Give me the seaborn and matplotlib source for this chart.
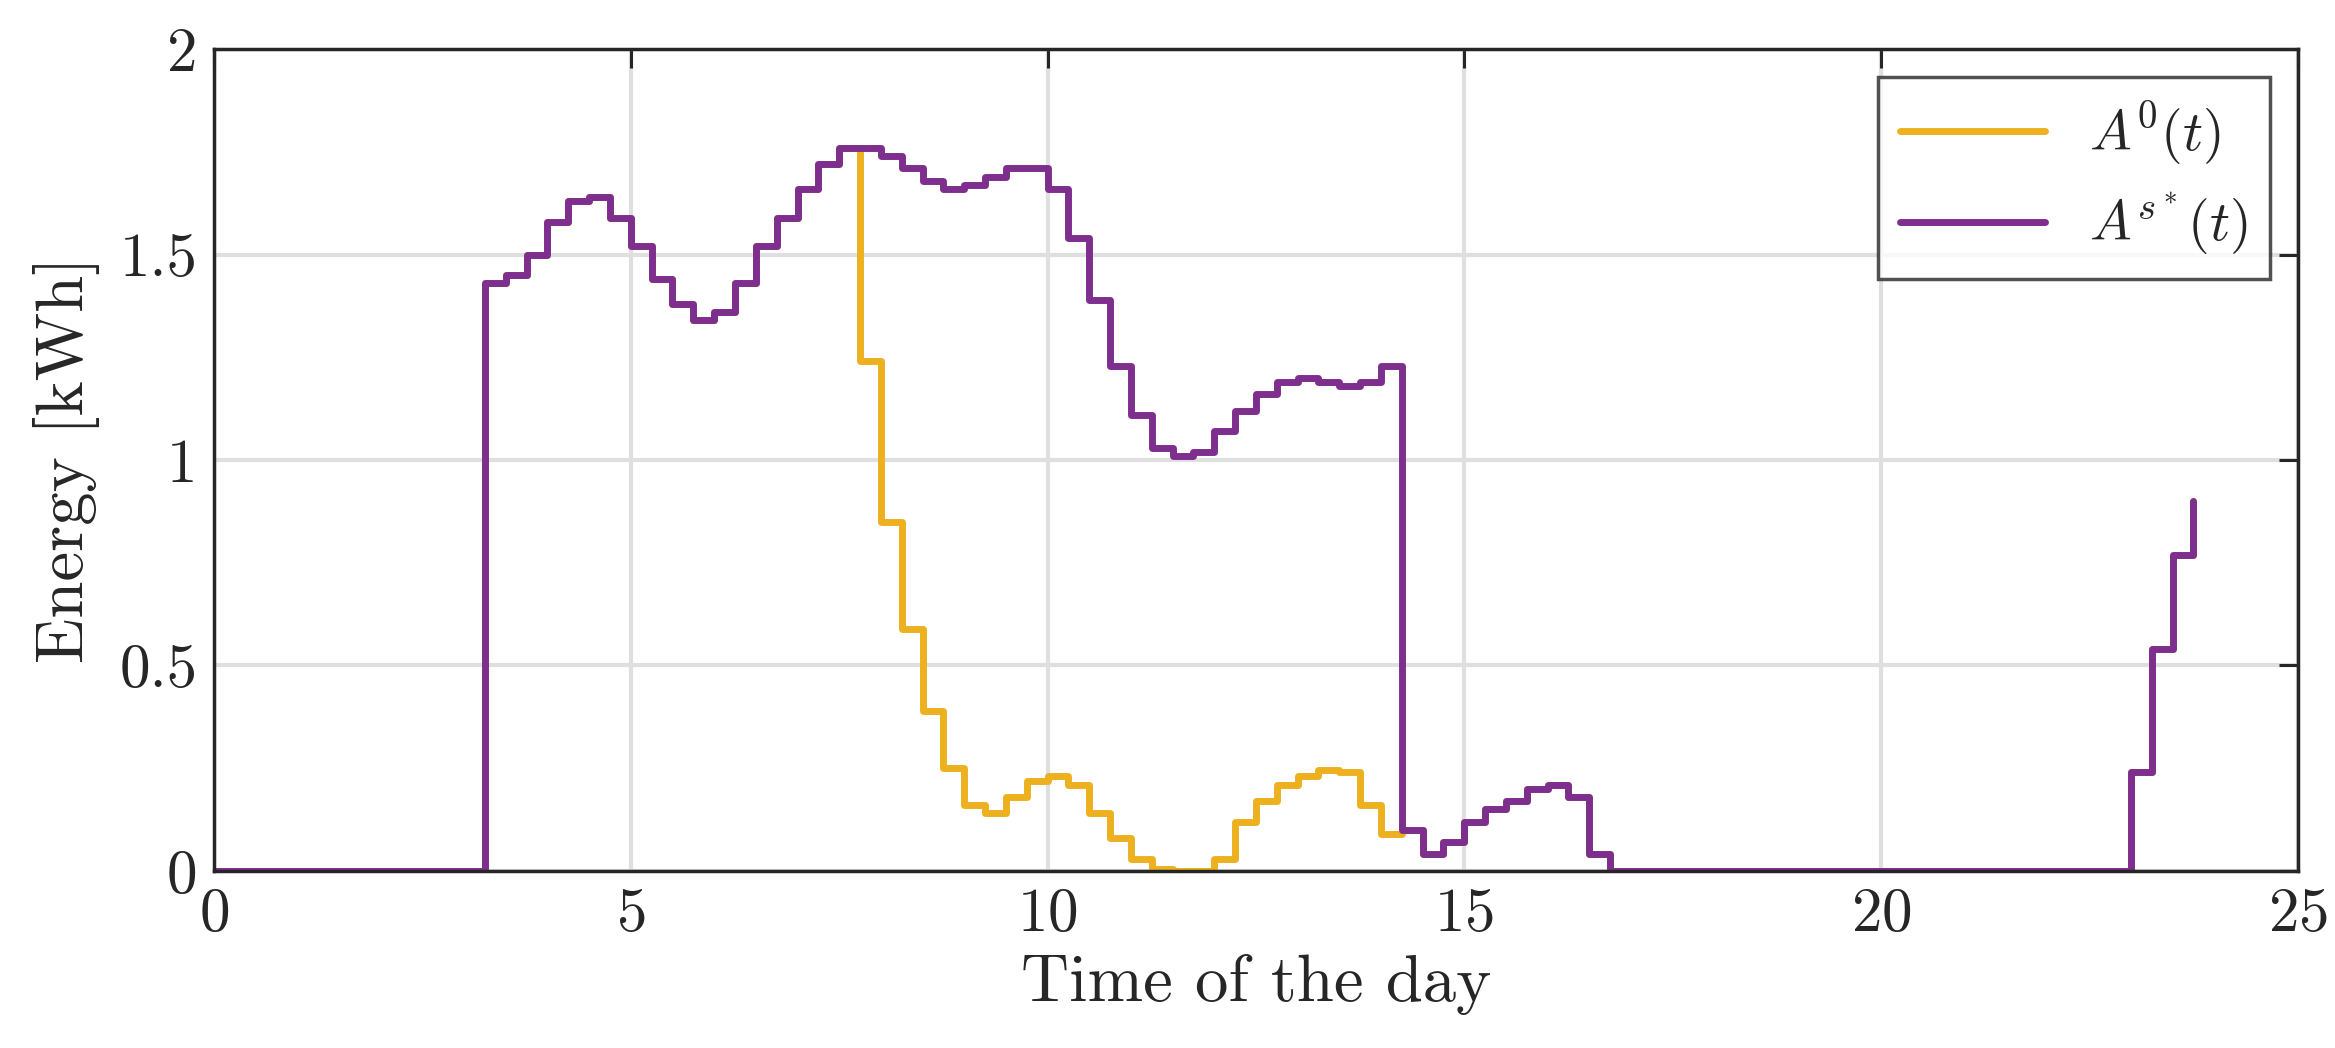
import numpy as np
import pandas as pd
import seaborn as sns
import matplotlib
matplotlib.use("Agg")
import matplotlib.pyplot as plt

dt = 0.25
times = np.arange(96) * dt  # 0 .. 23.75

purple_active = [1.43, 1.45, 1.50, 1.58, 1.63, 1.64, 1.59, 1.52, 1.44, 1.38, 1.34, 1.36,
                 1.43, 1.52, 1.59, 1.66, 1.72, 1.76, 1.76, 1.74, 1.71, 1.68, 1.66, 1.67,
                 1.69, 1.71, 1.71, 1.66, 1.54, 1.39, 1.23, 1.11, 1.03, 1.01, 1.02, 1.07,
                 1.12, 1.16, 1.19, 1.20, 1.19, 1.18, 1.19, 1.23]            # 3.25 .. 14.0
purple_after = [0.10, 0.04, 0.07, 0.12, 0.15, 0.17, 0.20, 0.21, 0.18, 0.04]  # 14.25 .. 16.5
purple_end = [0.24, 0.54, 0.77, 0.90]                                          # 23.0 .. 23.75
orange_mid = [1.24, 0.85, 0.59, 0.39, 0.25, 0.16, 0.14, 0.18, 0.22, 0.23, 0.21, 0.14,
              0.08, 0.03, 0.005, 0.0, 0.0, 0.03, 0.12, 0.17, 0.21, 0.23, 0.245, 0.24,
              0.16, 0.09]                                                     # 7.75 .. 14.0

purple = np.zeros(96)
purple[13:13 + len(purple_active)] = purple_active
purple[57:57 + len(purple_after)] = purple_after
purple[92:96] = purple_end
orange = purple.copy()
orange[31:31 + len(orange_mid)] = orange_mid

sns.set_theme(style="white")
plt.rcParams["font.family"] = ["cmr10", "DejaVu Serif"]
plt.rcParams["mathtext.fontset"] = "cm"
plt.rcParams["axes.formatter.use_mathtext"] = True
plt.rcParams["axes.unicode_minus"] = False

fig = plt.figure(figsize=(23.35, 10.48), dpi=100)
ax = fig.add_axes([0.0917, 0.169, 0.8923, 0.784])

df = pd.DataFrame({"t": np.concatenate([times, times]),
                   "E": np.concatenate([orange, purple]),
                   "s": [r"$A^0(t)$"] * 96 + [r"$A^{s^*}(t)$"] * 96})
sns.lineplot(data=df, x="t", y="E", hue="s",
             palette=["#EDB120", "#7E2F8E"], drawstyle="steps-post",
             linewidth=5, ax=ax)

ax.set_xlim(0, 25)
ax.set_ylim(0, 2)
ax.set_xticks([0, 5, 10, 15, 20, 25])
ax.set_yticks([0, 0.5, 1, 1.5, 2])
ax.set_yticklabels(["0", "0.5", "1", "1.5", "2"])
ax.grid(True, color="#dfdfdf", linewidth=3)
ax.set_axisbelow(True)
for sp in ax.spines.values():
    sp.set_visible(True)
    sp.set_color("#262626")
    sp.set_linewidth(2.5)
ax.tick_params(direction="in", length=14, width=2.2, top=True, right=True,
               labelsize=44, colors="#262626", pad=12)
ax.set_xlabel("Time of the day", fontsize=48, color="#262626", labelpad=8)
ax.set_ylabel("Energy [kWh]", fontsize=48, color="#262626", labelpad=14)
leg = ax.legend(loc="upper right", fontsize=40, frameon=True, fancybox=False,
                edgecolor="#262626", handlelength=2.6, borderaxespad=0.5,
                borderpad=0.4, labelspacing=0.4)
leg.get_frame().set_linewidth(2.5)
leg.set_title(None)

fig.savefig("out.png", dpi=100)
